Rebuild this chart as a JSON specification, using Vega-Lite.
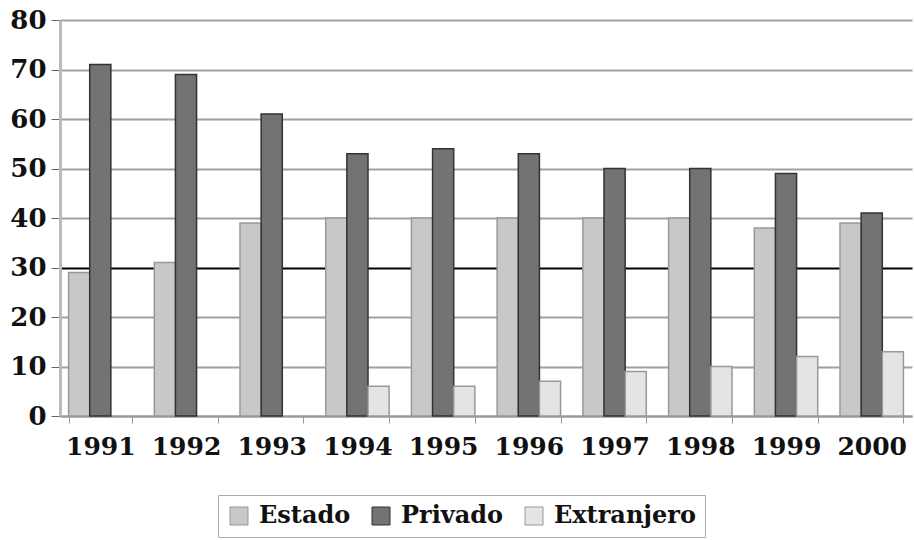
{
  "$schema": "https://vega.github.io/schema/vega-lite/v6.json",
  "autosize": "none",
  "width": 852,
  "height": 396,
  "padding": {"left": 60, "top": 20, "right": 2, "bottom": 124},
  "background": "white",
  "config": {
    "view": {"stroke": null},
    "font": "DejaVu Serif",
    "legend": {"strokeColor": "#aaa"}
  },
  "data": {
    "values": [
      {"year": "1991", "serie": "Estado", "value": 29},
      {"year": "1991", "serie": "Privado", "value": 71},
      {"year": "1992", "serie": "Estado", "value": 31},
      {"year": "1992", "serie": "Privado", "value": 69},
      {"year": "1993", "serie": "Estado", "value": 39},
      {"year": "1993", "serie": "Privado", "value": 61},
      {"year": "1994", "serie": "Estado", "value": 40},
      {"year": "1994", "serie": "Privado", "value": 53},
      {"year": "1994", "serie": "Extranjero", "value": 6},
      {"year": "1995", "serie": "Estado", "value": 40},
      {"year": "1995", "serie": "Privado", "value": 54},
      {"year": "1995", "serie": "Extranjero", "value": 6},
      {"year": "1996", "serie": "Estado", "value": 40},
      {"year": "1996", "serie": "Privado", "value": 53},
      {"year": "1996", "serie": "Extranjero", "value": 7},
      {"year": "1997", "serie": "Estado", "value": 40},
      {"year": "1997", "serie": "Privado", "value": 50},
      {"year": "1997", "serie": "Extranjero", "value": 9},
      {"year": "1998", "serie": "Estado", "value": 40},
      {"year": "1998", "serie": "Privado", "value": 50},
      {"year": "1998", "serie": "Extranjero", "value": 10},
      {"year": "1999", "serie": "Estado", "value": 38},
      {"year": "1999", "serie": "Privado", "value": 49},
      {"year": "1999", "serie": "Extranjero", "value": 12},
      {"year": "2000", "serie": "Estado", "value": 39},
      {"year": "2000", "serie": "Privado", "value": 41},
      {"year": "2000", "serie": "Extranjero", "value": 13}
    ]
  },
  "mark": {"type": "bar", "strokeWidth": 1.5},
  "encoding": {
    "x": {
      "field": "year",
      "type": "nominal",
      "scale": {"paddingInner": 0.26, "paddingOuter": 0.1},
      "axis": {
        "title": null,
        "labelAngle": 0,
        "labelFont": "DejaVu Serif",
        "labelFontWeight": "bold",
        "labelFontSize": 25,
        "labelColor": "#111",
        "labelPadding": 11,
        "tickBand": "extent",
        "tickSize": 7,
        "tickColor": "#999",
        "domainColor": "#999",
        "domainWidth": 2,
        "grid": false
      }
    },
    "xOffset": {
      "field": "serie",
      "type": "nominal",
      "sort": ["Estado", "Privado", "Extranjero"],
      "scale": {"domain": ["Estado", "Privado", "Extranjero"]}
    },
    "y": {
      "field": "value",
      "type": "quantitative",
      "scale": {"domain": [0, 80], "nice": false},
      "axis": {
        "title": null,
        "values": [0, 10, 20, 30, 40, 50, 60, 70, 80],
        "labelFont": "DejaVu Serif",
        "labelFontWeight": "bold",
        "labelFontSize": 26,
        "labelColor": "#111",
        "labelPadding": 5,
        "tickSize": 9,
        "tickColor": "#666",
        "domainColor": "#bbb",
        "domainWidth": 3,
        "grid": true,
        "gridWidth": 2,
        "gridColor": {
          "condition": {"test": "datum.value === 30", "value": "#000000"},
          "value": "#a0a0a0"
        }
      }
    },
    "fill": {
      "field": "serie",
      "type": "nominal",
      "sort": ["Estado", "Privado", "Extranjero"],
      "scale": {
        "domain": ["Estado", "Privado", "Extranjero"],
        "range": ["#c8c8c8", "#737373", "#e4e4e4"]
      },
      "legend": {
        "title": null,
        "orient": "none",
        "legendX": 158,
        "legendY": 475,
        "direction": "horizontal",
        "symbolType": "square",
        "symbolSize": 324,
        "symbolStrokeColor": "#888",
        "symbolStrokeWidth": 1,
        "symbolOffset": 0,
        "labelFont": "DejaVu Serif",
        "labelFontWeight": "bold",
        "labelFontSize": 24,
        "labelColor": "#111",
        "labelOffset": 8,
        "columnPadding": 18,
        "padding": 9
      }
    },
    "stroke": {
      "field": "serie",
      "type": "nominal",
      "scale": {
        "domain": ["Estado", "Privado", "Extranjero"],
        "range": ["#999999", "#333333", "#999999"]
      },
      "legend": null
    }
  }
}
